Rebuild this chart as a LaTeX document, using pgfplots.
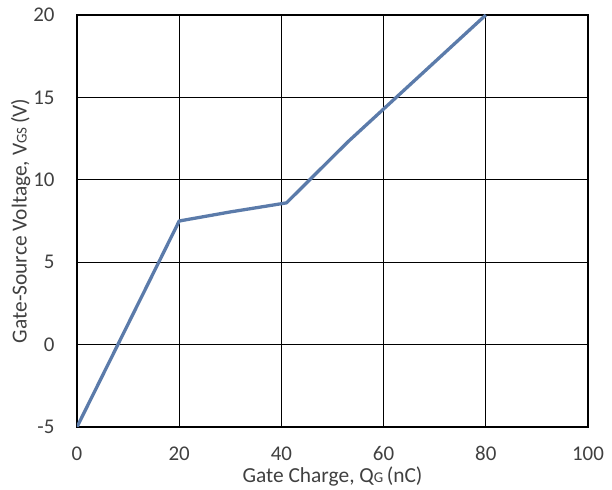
\documentclass[border=0pt]{standalone}
\usepackage{fontspec}
\setmainfont{Carlito}
\usepackage{pgfplots}
\pgfplotsset{compat=1.18}
\definecolor{qgline}{HTML}{5B7BAA}
\definecolor{txt}{HTML}{404040}
\newcommand{\sub}[1]{{\fontsize{15}{15}\selectfont #1}}
\begin{document}
\begin{tikzpicture}
\begin{axis}[
  scale only axis,
  width=511bp, height=412bp,
  xmin=0, xmax=100, ymin=-5, ymax=20,
  xtick={0,20,...,100}, ytick={-5,0,...,20},
  grid=major,
  grid style={black, line width=1.3pt},
  axis line style={black, line width=1.3pt},
  major tick length=0pt,
  tick label style={font=\fontsize{21}{21}\selectfont, text=txt},
  /pgf/number format/assume math mode=true,
  xticklabel style={yshift=-16bp},
  yticklabel style={xshift=-19bp},
  label style={font=\fontsize{21.5}{21.5}\selectfont, text=txt},
  xlabel={Gate Charge, Q\sub{G}\,(nC)},
  ylabel={Gate-Source Voltage, V\sub{GS}\,(V)},
  xlabel style={yshift=1bp},
  ylabel style={yshift=-4bp},
]
\addplot[qgline, line width=3.3pt, line join=round] coordinates {
  (0,-5) (20,7.5) (30,8.05) (41,8.6) (53,12.3) (80,20)
};
\end{axis}
\path (current axis.south west) ++(-77bp,-60bp) rectangle ++(612bp,487bp);
\end{tikzpicture}
\end{document}
